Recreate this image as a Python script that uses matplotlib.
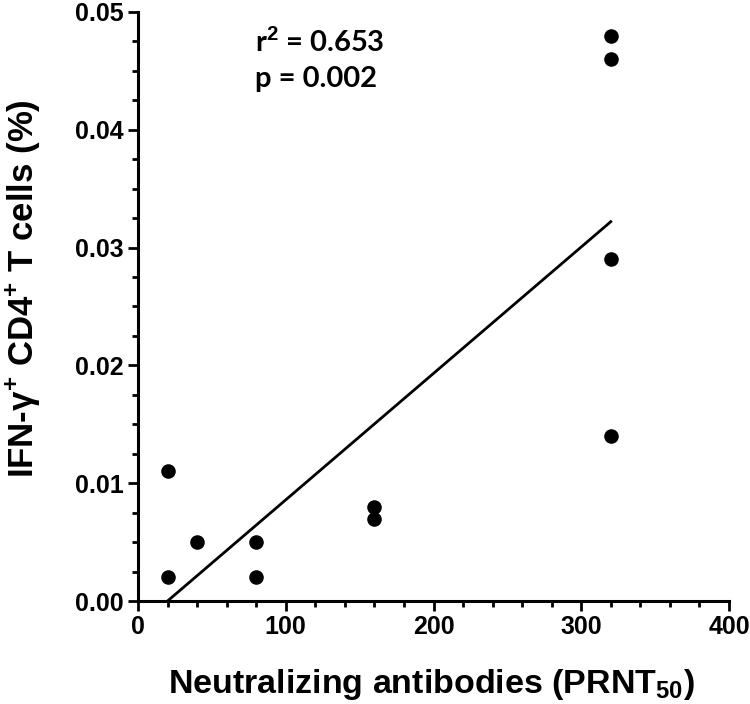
import matplotlib
matplotlib.use("Agg")
import matplotlib.pyplot as plt
from matplotlib.ticker import MultipleLocator, FixedFormatter, FixedLocator

# ---- data ----
prnt50 = [20, 20, 40, 80, 80, 160, 160, 320, 320, 320, 320]
ifng_cd4 = [0.011, 0.002, 0.005, 0.005, 0.002, 0.008, 0.007, 0.048, 0.046, 0.029, 0.014]
fit_x = [20, 320]
fit_y = [0.0, 0.0322]
x_ticks = [0, 100, 200, 300, 400]
x_ticklabels = ["0", "100", "200", "300", "400"]
y_ticks = [0.00, 0.01, 0.02, 0.03, 0.04, 0.05]
y_ticklabels = ["0.00", "0.01", "0.02", "0.03", "0.04", "0.05"]
stats_lines = [r"r$^{\mathbf{2}}$ = 0.653", "p = 0.002"]

plt.rcParams["font.family"] = ["Liberation Sans", "DejaVu Sans"]
plt.rcParams["mathtext.fontset"] = "custom"
plt.rcParams["mathtext.rm"] = "Liberation Sans:bold"
plt.rcParams["mathtext.bf"] = "Liberation Sans:bold"
plt.rcParams["mathtext.it"] = "Liberation Sans:bold"

fig = plt.figure(figsize=(7.5, 7.04), dpi=100)
ax = fig.add_axes([0.184, 0.1463, 0.788, 0.8367])

ax.scatter(prnt50, ifng_cd4, s=110, color="black", zorder=3, clip_on=False, linewidths=0)
ax.plot(fit_x, fit_y, color="black", lw=2.0, zorder=2)

ax.set_xlim(0, 400)
ax.set_ylim(0, 0.05)

for s in ["top", "right"]:
    ax.spines[s].set_visible(False)
for s in ["left", "bottom"]:
    ax.spines[s].set_linewidth(2.2)

ax.xaxis.set_major_locator(FixedLocator(x_ticks))
ax.xaxis.set_major_formatter(FixedFormatter(x_ticklabels))
ax.yaxis.set_major_locator(FixedLocator(y_ticks))
ax.yaxis.set_major_formatter(FixedFormatter(y_ticklabels))
ax.xaxis.set_minor_locator(MultipleLocator(20))
ax.yaxis.set_minor_locator(MultipleLocator(0.0025))

ax.tick_params(which="major", direction="out", length=7, width=2.0, labelsize=18, pad=3)
ax.tick_params(which="minor", direction="out", length=4, width=2.0)
for lbl in ax.get_xticklabels() + ax.get_yticklabels():
    lbl.set_fontweight("bold")

ax.set_xlabel(r"Neutralizing antibodies (PRNT$_{\mathbf{50}}$)", fontsize=24.5,
              fontweight="bold")
ax.xaxis.set_label_coords(0.497, -0.112)
ax.set_ylabel(r"IFN-γ$^{\mathbf{+}}$ CD4$^{\mathbf{+}}$ T cells (%)", fontsize=25,
              fontweight="bold")
ax.yaxis.set_label_coords(-0.163, 0.531)

ax.text(0.198, 0.949, stats_lines[0], transform=ax.transAxes, fontsize=21,
        fontweight="bold", family=["Lato", "DejaVu Sans"], va="center", ha="left")
ax.text(0.198, 0.886, stats_lines[1], transform=ax.transAxes, fontsize=21,
        fontweight="bold", family=["Lato", "DejaVu Sans"], va="center", ha="left")

fig.savefig("out.png", dpi=100)
